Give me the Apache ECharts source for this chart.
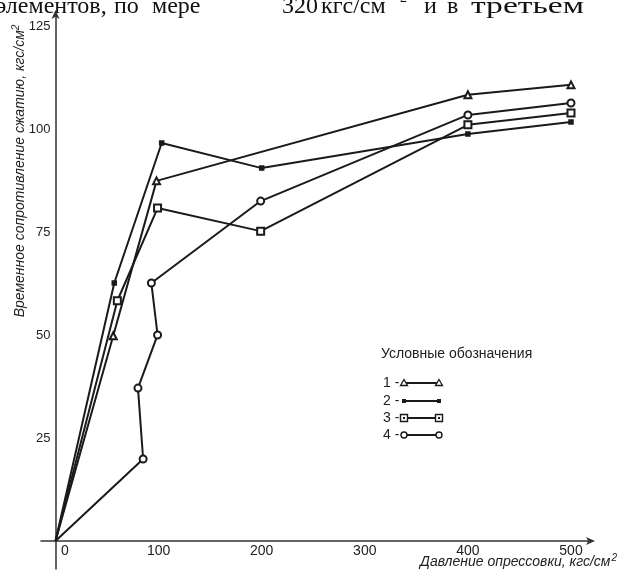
<!DOCTYPE html>
<html>
<head>
<meta charset="utf-8">
<script src="https://cdn.jsdelivr.net/npm/echarts@6/dist/echarts.min.js"></script>
<style>
html,body{margin:0;padding:0;background:#fff;}
#chart{width:618px;height:577px;}
</style>
</head>
<body>
<div id="chart"></div>
<script>
// ---- data ----
const xTickLabels = [0, 100, 200, 300, 400, 500];
const yTickLabels = [25, 50, 75, 100, 125];
const seriesNames = ['1', '2', '3', '4'];
const s1x = [0, 56, 98, 400, 500];
const s1y = [0, 49.8, 87.4, 108.3, 110.7];
const s2x = [0, 57, 103, 200, 400, 500];
const s2y = [0, 62.6, 96.6, 90.5, 98.8, 101.7];
const s3x = [0, 60, 99, 199, 400, 500];
const s3y = [0, 58.3, 80.8, 75.2, 101.0, 103.9];
const s4x = [0, 85, 80, 99, 93, 199, 400, 500];
const s4y = [0, 19.9, 37.1, 50.0, 62.6, 82.5, 103.4, 106.3];
const xAxisTitle = 'Давление опрессовки, кгс/см';
const yAxisTitle = 'Временное сопротивление сжатию, кгс/см';
const legendTitle = 'Условные обозначения';
const topTextWords = [['элементов,', -4], ['по', 114], ['мере', 152], ['320', 282], ['кгс/см', 321], ['2', 400], ['и', 424], ['в', 447], ['третьем', 471]];

const INK = '#1a1a1a';
const symbols = [
  {symbol: 'emptyTriangle', size: 7},
  {symbol: 'rect', size: 4},
  {symbol: 'emptyRect', size: 7},
  {symbol: 'emptyCircle', size: 7}
];

function pairs(xs, ys) {
  return xs.map((x, i) => i === 0 ? {value: [x, ys[i]], symbol: 'none'} : [x, ys[i]]);
}
const allData = [pairs(s1x, s1y), pairs(s2x, s2y), pairs(s3x, s3y), pairs(s4x, s4y)];

const series = allData.map((d, i) => ({
  name: seriesNames[i],
  type: 'line',
  xAxisIndex: 0,
  yAxisIndex: 0,
  data: d,
  symbol: symbols[i].symbol,
  symbolSize: symbols[i].size,
  showAllSymbol: true,
  lineStyle: {color: INK, width: 2},
  itemStyle: {color: INK, borderColor: INK, borderWidth: 1.5},
  z: 3,
  animation: false
}));

// legend drawn as graphic
const legendGraphics = [];
legendGraphics.push({type: 'text', x: 381, y: 354, style: {text: legendTitle, font: '14px "Liberation Sans", Arial, sans-serif', fill: '#222', verticalAlign: 'middle'}});
const legY = [383, 401, 418, 435];
seriesNames.forEach((n, i) => {
  const y = legY[i];
  legendGraphics.push({type: 'text', x: 383, y: y, style: {text: n + ' -', font: '14px "Liberation Sans", Arial, sans-serif', fill: '#222', verticalAlign: 'middle'}});
  legendGraphics.push({type: 'line', shape: {x1: 404, y1: y, x2: 439, y2: y}, style: {stroke: INK, lineWidth: 2}});
  [404, 439].forEach(cx => {
    if (i === 0) legendGraphics.push({type: 'polygon', shape: {points: [[cx, y - 3.5], [cx + 3.5, y + 2.5], [cx - 3.5, y + 2.5]]}, style: {fill: '#fff', stroke: INK, lineWidth: 1.3}});
    if (i === 1) legendGraphics.push({type: 'rect', shape: {x: cx - 2, y: y - 2, width: 4, height: 4}, style: {fill: INK}});
    if (i === 2) {
      legendGraphics.push({type: 'rect', shape: {x: cx - 3.5, y: y - 3.5, width: 7, height: 7}, style: {fill: '#fff', stroke: INK, lineWidth: 1.4}});
      legendGraphics.push({type: 'rect', shape: {x: cx - 1, y: y - 1, width: 2, height: 2}, style: {fill: INK}});
    }
    if (i === 3) legendGraphics.push({type: 'circle', shape: {cx: cx, cy: y, r: 3}, style: {fill: '#fff', stroke: INK, lineWidth: 1.4}});
  });
});

const topText = topTextWords.map(([w, x]) => ({
  type: 'text', x: x, y: w === '2' ? -2 : 19,
  scaleX: w === 'третьем' ? 1.4 : 1,
  style: {text: w, font: (w === '2' ? '14px' : '24px') + ' "Liberation Serif", "Times New Roman", serif', fill: '#111', verticalAlign: w === '2' ? 'middle' : 'bottom'}
}));

const axisFont = '"Liberation Sans", Arial, sans-serif';

const option = {
  backgroundColor: '#fff',
  animation: false,
  grid: [
    {left: 41, right: 27, top: 14, bottom: 8, containLabel: false},
    {left: 55.5, right: 27, top: 14, bottom: 36, containLabel: false}
  ],
  xAxis: [
    {
      type: 'value', gridIndex: 0,
      min: -14.06, max: 519.4,
      splitLine: {show: false},
      axisTick: {show: false},
      axisLabel: {show: false},
      axisLine: {show: true, onZero: true, lineStyle: {color: '#333', width: 1.5}, symbol: ['none', 'arrow'], symbolSize: [6, 9], symbolOffset: [0, 4]}
    },
    {
      type: 'value', gridIndex: 1,
      min: 0, max: 519.4,
      splitLine: {show: false},
      axisTick: {show: false},
      axisLine: {show: false},
      axisLabel: {
        customValues: xTickLabels,
        margin: 3,
        fontSize: 14,
        fontFamily: axisFont,
        color: '#222',
        formatter: v => v === 0 ? '{z|0}' : String(v),
        rich: {z: {fontSize: 14, fontFamily: axisFont, color: '#222', padding: [0, 0, 0, 19]}}
      }
    }
  ],
  yAxis: [
    {
      type: 'value', gridIndex: 0,
      min: -6.8, max: 127.9,
      splitLine: {show: false},
      axisTick: {show: false},
      axisLabel: {show: false},
      axisLine: {show: true, onZero: true, lineStyle: {color: '#333', width: 1.5}, symbol: ['none', 'arrow'], symbolSize: [6, 9], symbolOffset: [0, 4]}
    },
    {
      type: 'value', gridIndex: 1,
      min: 0, max: 127.9,
      splitLine: {show: false},
      axisTick: {show: false},
      axisLine: {show: false},
      axisLabel: {
        customValues: yTickLabels,
        margin: 5,
        fontSize: 13,
        fontFamily: axisFont,
        color: '#222'
      }
    }
  ],
  graphic: [
    {type: 'text', x: 20, y: 171, rotation: Math.PI / 2,
      style: {text: '{a|' + yAxisTitle + '}{s|2}', align: 'center', verticalAlign: 'middle',
        rich: {a: {font: 'italic 14px ' + axisFont, fill: '#222', lineHeight: 18},
               s: {font: 'italic 10px ' + axisFont, fill: '#222', lineHeight: 18, padding: [0, 0, 8, 0]}}}},
    {type: 'text', x: 617, y: 562,
      style: {text: '{a|' + xAxisTitle + '}{s|2}', align: 'right', verticalAlign: 'middle',
        rich: {a: {font: 'italic 14px ' + axisFont, fill: '#222', lineHeight: 18},
               s: {font: 'italic 10px ' + axisFont, fill: '#222', lineHeight: 18, padding: [0, 0, 8, 1]}}}},
    ...legendGraphics,
    ...topText
  ],
  series: series
};

const chart = echarts.init(document.getElementById('chart'), null, {renderer: 'canvas'});
chart.setOption(option);
</script>
</body>
</html>
